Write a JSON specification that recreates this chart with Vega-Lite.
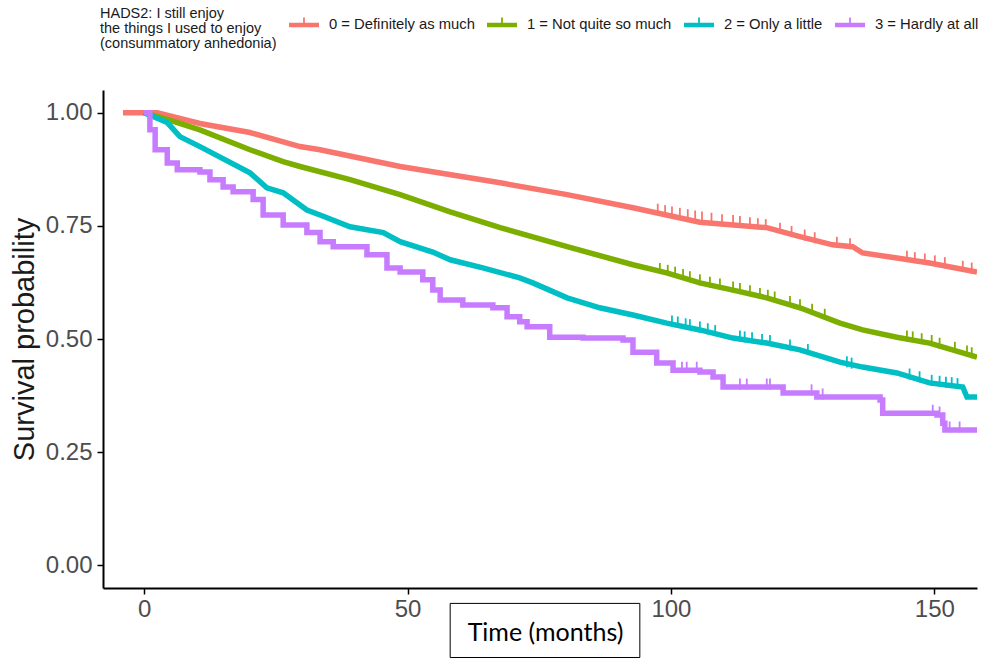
{
  "$schema": "https://vega.github.io/schema/vega-lite/v6.json",
  "width": 874,
  "height": 498,
  "autosize": {"type": "none"},
  "padding": {"left": 103, "top": 90, "right": 13, "bottom": 70},
  "background": "white",
  "config": {
    "view": {"stroke": null},
    "axis": {"grid": false, "domainColor": "black", "domainWidth": 2, "tickColor": "black", "tickWidth": 1.5, "tickSize": 6, "labelFont": "Liberation Sans", "labelFontSize": 24, "labelColor": "#4d4d4d"}
  },
  "datasets": {
    "curves": [
      {"g": "0 = Definitely as much", "t": -4, "s": 1},
      {"g": "0 = Definitely as much", "t": 2.5, "s": 1},
      {"g": "0 = Definitely as much", "t": 10.6, "s": 0.976},
      {"g": "0 = Definitely as much", "t": 20.1, "s": 0.956},
      {"g": "0 = Definitely as much", "t": 29.6, "s": 0.925},
      {"g": "0 = Definitely as much", "t": 33.4, "s": 0.918},
      {"g": "0 = Definitely as much", "t": 48.6, "s": 0.881},
      {"g": "0 = Definitely as much", "t": 67.6, "s": 0.845},
      {"g": "0 = Definitely as much", "t": 80.3, "s": 0.819},
      {"g": "0 = Definitely as much", "t": 92.8, "s": 0.790},
      {"g": "0 = Definitely as much", "t": 105.5, "s": 0.758},
      {"g": "0 = Definitely as much", "t": 118.2, "s": 0.746},
      {"g": "0 = Definitely as much", "t": 124.5, "s": 0.726},
      {"g": "0 = Definitely as much", "t": 130.7, "s": 0.708},
      {"g": "0 = Definitely as much", "t": 134.5, "s": 0.704},
      {"g": "0 = Definitely as much", "t": 136.4, "s": 0.690},
      {"g": "0 = Definitely as much", "t": 142.9, "s": 0.679},
      {"g": "0 = Definitely as much", "t": 149.1, "s": 0.668},
      {"g": "0 = Definitely as much", "t": 158.1, "s": 0.648},
      {"g": "1 = Not quite so much", "t": 0, "s": 1},
      {"g": "1 = Not quite so much", "t": 4.4, "s": 0.985},
      {"g": "1 = Not quite so much", "t": 10.6, "s": 0.962},
      {"g": "1 = Not quite so much", "t": 20.1, "s": 0.918},
      {"g": "1 = Not quite so much", "t": 26.4, "s": 0.892},
      {"g": "1 = Not quite so much", "t": 29.6, "s": 0.881},
      {"g": "1 = Not quite so much", "t": 39.1, "s": 0.852},
      {"g": "1 = Not quite so much", "t": 48.6, "s": 0.819},
      {"g": "1 = Not quite so much", "t": 58.1, "s": 0.781},
      {"g": "1 = Not quite so much", "t": 67.6, "s": 0.746},
      {"g": "1 = Not quite so much", "t": 80.3, "s": 0.704},
      {"g": "1 = Not quite so much", "t": 92.8, "s": 0.664},
      {"g": "1 = Not quite so much", "t": 99.2, "s": 0.646},
      {"g": "1 = Not quite so much", "t": 105.5, "s": 0.624},
      {"g": "1 = Not quite so much", "t": 111.8, "s": 0.608},
      {"g": "1 = Not quite so much", "t": 118.2, "s": 0.591},
      {"g": "1 = Not quite so much", "t": 124.5, "s": 0.569},
      {"g": "1 = Not quite so much", "t": 132.1, "s": 0.535},
      {"g": "1 = Not quite so much", "t": 136.4, "s": 0.520},
      {"g": "1 = Not quite so much", "t": 142.9, "s": 0.504},
      {"g": "1 = Not quite so much", "t": 149.1, "s": 0.491},
      {"g": "1 = Not quite so much", "t": 158.1, "s": 0.460},
      {"g": "2 = Only a little", "t": 0, "s": 1},
      {"g": "2 = Only a little", "t": 4.4, "s": 0.978},
      {"g": "2 = Only a little", "t": 6.8, "s": 0.947},
      {"g": "2 = Only a little", "t": 10.6, "s": 0.925},
      {"g": "2 = Only a little", "t": 20.1, "s": 0.867},
      {"g": "2 = Only a little", "t": 23.3, "s": 0.834},
      {"g": "2 = Only a little", "t": 26.4, "s": 0.823},
      {"g": "2 = Only a little", "t": 30.9, "s": 0.785},
      {"g": "2 = Only a little", "t": 33.4, "s": 0.774},
      {"g": "2 = Only a little", "t": 39.1, "s": 0.748},
      {"g": "2 = Only a little", "t": 45.4, "s": 0.735},
      {"g": "2 = Only a little", "t": 48.6, "s": 0.715},
      {"g": "2 = Only a little", "t": 54.8, "s": 0.692},
      {"g": "2 = Only a little", "t": 58.1, "s": 0.675},
      {"g": "2 = Only a little", "t": 64.3, "s": 0.657},
      {"g": "2 = Only a little", "t": 71.3, "s": 0.635},
      {"g": "2 = Only a little", "t": 73.8, "s": 0.624},
      {"g": "2 = Only a little", "t": 80.3, "s": 0.591},
      {"g": "2 = Only a little", "t": 86.5, "s": 0.569},
      {"g": "2 = Only a little", "t": 92.8, "s": 0.553},
      {"g": "2 = Only a little", "t": 99.2, "s": 0.535},
      {"g": "2 = Only a little", "t": 105.5, "s": 0.520},
      {"g": "2 = Only a little", "t": 111.8, "s": 0.502},
      {"g": "2 = Only a little", "t": 118.2, "s": 0.491},
      {"g": "2 = Only a little", "t": 124.5, "s": 0.476},
      {"g": "2 = Only a little", "t": 132.1, "s": 0.449},
      {"g": "2 = Only a little", "t": 136.4, "s": 0.438},
      {"g": "2 = Only a little", "t": 142.9, "s": 0.425},
      {"g": "2 = Only a little", "t": 149.1, "s": 0.403},
      {"g": "2 = Only a little", "t": 155.4, "s": 0.394},
      {"g": "2 = Only a little", "t": 156.2, "s": 0.372},
      {"g": "2 = Only a little", "t": 158.1, "s": 0.372},
      {"g": "3 = Hardly at all", "t": 0, "s": 1},
      {"g": "3 = Hardly at all", "t": 1.1, "s": 0.962},
      {"g": "3 = Hardly at all", "t": 2.1, "s": 0.918},
      {"g": "3 = Hardly at all", "t": 4.4, "s": 0.889},
      {"g": "3 = Hardly at all", "t": 6.3, "s": 0.874},
      {"g": "3 = Hardly at all", "t": 10.6, "s": 0.869},
      {"g": "3 = Hardly at all", "t": 12.5, "s": 0.852},
      {"g": "3 = Hardly at all", "t": 15.0, "s": 0.836},
      {"g": "3 = Hardly at all", "t": 16.9, "s": 0.825},
      {"g": "3 = Hardly at all", "t": 20.7, "s": 0.808},
      {"g": "3 = Hardly at all", "t": 22.6, "s": 0.774},
      {"g": "3 = Hardly at all", "t": 26.4, "s": 0.752},
      {"g": "3 = Hardly at all", "t": 30.9, "s": 0.735},
      {"g": "3 = Hardly at all", "t": 33.4, "s": 0.715},
      {"g": "3 = Hardly at all", "t": 35.9, "s": 0.704},
      {"g": "3 = Hardly at all", "t": 42.3, "s": 0.686},
      {"g": "3 = Hardly at all", "t": 46.1, "s": 0.657},
      {"g": "3 = Hardly at all", "t": 48.6, "s": 0.648},
      {"g": "3 = Hardly at all", "t": 52.9, "s": 0.631},
      {"g": "3 = Hardly at all", "t": 54.8, "s": 0.608},
      {"g": "3 = Hardly at all", "t": 56.2, "s": 0.586},
      {"g": "3 = Hardly at all", "t": 60.5, "s": 0.575},
      {"g": "3 = Hardly at all", "t": 66.2, "s": 0.569},
      {"g": "3 = Hardly at all", "t": 68.9, "s": 0.549},
      {"g": "3 = Hardly at all", "t": 71.3, "s": 0.538},
      {"g": "3 = Hardly at all", "t": 72.7, "s": 0.527},
      {"g": "3 = Hardly at all", "t": 77.0, "s": 0.504},
      {"g": "3 = Hardly at all", "t": 83.3, "s": 0.502},
      {"g": "3 = Hardly at all", "t": 90.9, "s": 0.498},
      {"g": "3 = Hardly at all", "t": 92.8, "s": 0.471},
      {"g": "3 = Hardly at all", "t": 97.3, "s": 0.447},
      {"g": "3 = Hardly at all", "t": 100.4, "s": 0.431},
      {"g": "3 = Hardly at all", "t": 105.5, "s": 0.427},
      {"g": "3 = Hardly at all", "t": 108.0, "s": 0.416},
      {"g": "3 = Hardly at all", "t": 109.9, "s": 0.394},
      {"g": "3 = Hardly at all", "t": 121.3, "s": 0.381},
      {"g": "3 = Hardly at all", "t": 127.7, "s": 0.372},
      {"g": "3 = Hardly at all", "t": 139.7, "s": 0.365},
      {"g": "3 = Hardly at all", "t": 140.2, "s": 0.336},
      {"g": "3 = Hardly at all", "t": 150.5, "s": 0.332},
      {"g": "3 = Hardly at all", "t": 151.6, "s": 0.314},
      {"g": "3 = Hardly at all", "t": 152.0, "s": 0.299},
      {"g": "3 = Hardly at all", "t": 158.1, "s": 0.299}
    ],
    "censor": [
      {"g": "0 = Definitely as much", "t": 97.5, "s": 0.780},
      {"g": "0 = Definitely as much", "t": 98.9, "s": 0.777},
      {"g": "0 = Definitely as much", "t": 100.2, "s": 0.774},
      {"g": "0 = Definitely as much", "t": 101.7, "s": 0.771},
      {"g": "0 = Definitely as much", "t": 103.2, "s": 0.768},
      {"g": "0 = Definitely as much", "t": 104.6, "s": 0.765},
      {"g": "0 = Definitely as much", "t": 105.9, "s": 0.763},
      {"g": "0 = Definitely as much", "t": 107.7, "s": 0.760},
      {"g": "0 = Definitely as much", "t": 109.7, "s": 0.757},
      {"g": "0 = Definitely as much", "t": 111.8, "s": 0.755},
      {"g": "0 = Definitely as much", "t": 113.1, "s": 0.753},
      {"g": "0 = Definitely as much", "t": 115.0, "s": 0.750},
      {"g": "0 = Definitely as much", "t": 116.5, "s": 0.748},
      {"g": "0 = Definitely as much", "t": 118.0, "s": 0.746},
      {"g": "0 = Definitely as much", "t": 120.7, "s": 0.738},
      {"g": "0 = Definitely as much", "t": 122.9, "s": 0.731},
      {"g": "0 = Definitely as much", "t": 125.4, "s": 0.723},
      {"g": "0 = Definitely as much", "t": 127.3, "s": 0.717},
      {"g": "0 = Definitely as much", "t": 131.5, "s": 0.707},
      {"g": "0 = Definitely as much", "t": 134.0, "s": 0.704},
      {"g": "0 = Definitely as much", "t": 144.8, "s": 0.676},
      {"g": "0 = Definitely as much", "t": 146.3, "s": 0.673},
      {"g": "0 = Definitely as much", "t": 148.2, "s": 0.670},
      {"g": "0 = Definitely as much", "t": 150.1, "s": 0.666},
      {"g": "0 = Definitely as much", "t": 152.0, "s": 0.662},
      {"g": "0 = Definitely as much", "t": 155.4, "s": 0.654},
      {"g": "0 = Definitely as much", "t": 157.1, "s": 0.650},
      {"g": "1 = Not quite so much", "t": 97.9, "s": 0.649},
      {"g": "1 = Not quite so much", "t": 99.4, "s": 0.645},
      {"g": "1 = Not quite so much", "t": 100.8, "s": 0.641},
      {"g": "1 = Not quite so much", "t": 102.3, "s": 0.636},
      {"g": "1 = Not quite so much", "t": 103.6, "s": 0.631},
      {"g": "1 = Not quite so much", "t": 105.5, "s": 0.624},
      {"g": "1 = Not quite so much", "t": 107.4, "s": 0.619},
      {"g": "1 = Not quite so much", "t": 109.3, "s": 0.615},
      {"g": "1 = Not quite so much", "t": 111.8, "s": 0.608},
      {"g": "1 = Not quite so much", "t": 113.1, "s": 0.605},
      {"g": "1 = Not quite so much", "t": 115.0, "s": 0.600},
      {"g": "1 = Not quite so much", "t": 116.9, "s": 0.594},
      {"g": "1 = Not quite so much", "t": 118.4, "s": 0.590},
      {"g": "1 = Not quite so much", "t": 119.7, "s": 0.586},
      {"g": "1 = Not quite so much", "t": 122.6, "s": 0.576},
      {"g": "1 = Not quite so much", "t": 124.5, "s": 0.569},
      {"g": "1 = Not quite so much", "t": 126.8, "s": 0.559},
      {"g": "1 = Not quite so much", "t": 129.2, "s": 0.548},
      {"g": "1 = Not quite so much", "t": 144.8, "s": 0.500},
      {"g": "1 = Not quite so much", "t": 145.9, "s": 0.498},
      {"g": "1 = Not quite so much", "t": 147.6, "s": 0.494},
      {"g": "1 = Not quite so much", "t": 149.5, "s": 0.490},
      {"g": "1 = Not quite so much", "t": 151.0, "s": 0.484},
      {"g": "1 = Not quite so much", "t": 153.9, "s": 0.475},
      {"g": "1 = Not quite so much", "t": 156.2, "s": 0.467},
      {"g": "1 = Not quite so much", "t": 157.1, "s": 0.463},
      {"g": "2 = Only a little", "t": 100.2, "s": 0.533},
      {"g": "2 = Only a little", "t": 101.3, "s": 0.531},
      {"g": "2 = Only a little", "t": 102.8, "s": 0.527},
      {"g": "2 = Only a little", "t": 103.6, "s": 0.525},
      {"g": "2 = Only a little", "t": 105.5, "s": 0.520},
      {"g": "2 = Only a little", "t": 107.0, "s": 0.516},
      {"g": "2 = Only a little", "t": 108.4, "s": 0.512},
      {"g": "2 = Only a little", "t": 113.1, "s": 0.500},
      {"g": "2 = Only a little", "t": 114.0, "s": 0.498},
      {"g": "2 = Only a little", "t": 115.4, "s": 0.496},
      {"g": "2 = Only a little", "t": 117.3, "s": 0.492},
      {"g": "2 = Only a little", "t": 118.8, "s": 0.490},
      {"g": "2 = Only a little", "t": 122.6, "s": 0.480},
      {"g": "2 = Only a little", "t": 126.0, "s": 0.470},
      {"g": "2 = Only a little", "t": 133.4, "s": 0.443},
      {"g": "2 = Only a little", "t": 134.3, "s": 0.440},
      {"g": "2 = Only a little", "t": 145.3, "s": 0.416},
      {"g": "2 = Only a little", "t": 147.2, "s": 0.410},
      {"g": "2 = Only a little", "t": 149.5, "s": 0.402},
      {"g": "2 = Only a little", "t": 151.0, "s": 0.400},
      {"g": "2 = Only a little", "t": 152.2, "s": 0.398},
      {"g": "2 = Only a little", "t": 153.3, "s": 0.397},
      {"g": "2 = Only a little", "t": 154.4, "s": 0.395},
      {"g": "3 = Hardly at all", "t": 102.1, "s": 0.431},
      {"g": "3 = Hardly at all", "t": 103.0, "s": 0.431},
      {"g": "3 = Hardly at all", "t": 104.9, "s": 0.431},
      {"g": "3 = Hardly at all", "t": 113.1, "s": 0.394},
      {"g": "3 = Hardly at all", "t": 114.4, "s": 0.394},
      {"g": "3 = Hardly at all", "t": 118.2, "s": 0.394},
      {"g": "3 = Hardly at all", "t": 118.8, "s": 0.394},
      {"g": "3 = Hardly at all", "t": 126.7, "s": 0.381},
      {"g": "3 = Hardly at all", "t": 128.8, "s": 0.372},
      {"g": "3 = Hardly at all", "t": 149.7, "s": 0.336},
      {"g": "3 = Hardly at all", "t": 151.0, "s": 0.332},
      {"g": "3 = Hardly at all", "t": 152.9, "s": 0.299},
      {"g": "3 = Hardly at all", "t": 154.8, "s": 0.299}
    ]
  },
  "layer": [
    {
      "data": {"name": "curves"},
      "transform": [{"filter": "datum.g != '3 = Hardly at all'"}],
      "mark": {"type": "line", "strokeWidth": 5.5, "clip": true},
      "encoding": {
        "x": {"field": "t", "type": "quantitative", "scale": {"domain": [-7.8, 158.1], "nice": false, "zero": false},
          "axis": {"values": [0, 50, 100, 150], "title": "Time (months)", "titleFont": "Lato", "titleFontSize": 25, "titleFontWeight": "normal", "titleColor": "black", "titleX": 442, "titleY": 44, "titleBaseline": "middle", "titleAlign": "center", "titleAnchor": null, "labelPadding": 3}},
        "y": {"field": "s", "type": "quantitative", "scale": {"domain": [-0.05, 1.05], "nice": false, "zero": false},
          "axis": {"values": [0, 0.25, 0.5, 0.75, 1], "format": ".2f", "title": "Survival probability", "titleFont": "Liberation Sans", "titleFontSize": 29, "titleFontWeight": "normal", "titleColor": "#1a1a1a", "titlePadding": 6, "labelPadding": 5}},
        "color": {"field": "g", "type": "nominal",
          "scale": {"domain": ["0 = Definitely as much", "1 = Not quite so much", "2 = Only a little", "3 = Hardly at all"], "range": ["#F8766D", "#7CAE00", "#00BFC4", "#C77CFF"]},
          "legend": {"orient": "none", "legendX": -3, "legendY": -80, "direction": "horizontal", "titleOrient": "left",
            "title": ["HADS2: I still enjoy", "the things I used to enjoy", "(consummatory anhedonia)"],
            "titleFont": "Liberation Sans", "titleFontSize": 14.5, "titleFontWeight": "normal", "titleLineHeight": 15, "titleColor": "#1a1a1a", "titlePadding": 12,
            "labelFont": "Liberation Sans", "labelFontSize": 14.8, "labelColor": "#1a1a1a", "labelOffset": 10, "columnPadding": 12,
            "symbolType": "M-1,-0.15H-0.06V-0.5H0.06V-0.15H1V0.15H-1Z", "symbolSize": 900, "symbolStrokeWidth": 0,
            "encode": {
              "symbols": {"update": {"fill": {"scale": "color", "field": "value"}, "opacity": {"value": 1}}},
              "title": {"update": {"dy": {"value": 8}}}
            }}}
      }
    },
    {
      "data": {"name": "curves"},
      "transform": [{"filter": "datum.g == '3 = Hardly at all'"}],
      "mark": {"type": "line", "strokeWidth": 5.5, "interpolate": "step-after", "clip": true},
      "encoding": {
        "x": {"field": "t", "type": "quantitative"},
        "y": {"field": "s", "type": "quantitative"},
        "color": {"field": "g", "type": "nominal"}
      }
    },
    {
      "data": {"name": "censor"},
      "mark": {"type": "tick", "orient": "vertical", "size": 11, "thickness": 1.8, "yOffset": -3, "opacity": 1, "clip": true},
      "encoding": {
        "x": {"field": "t", "type": "quantitative"},
        "y": {"field": "s", "type": "quantitative"},
        "color": {"field": "g", "type": "nominal"}
      }
    },
    {
      "data": {"values": [{}]},
      "mark": {"type": "rect", "filled": false, "stroke": "black", "strokeWidth": 1},
      "encoding": {
        "x": {"datum": 58.1, "type": "quantitative"},
        "x2": {"datum": 94.1},
        "y": {"datum": -0.084, "type": "quantitative"},
        "y2": {"datum": -0.2035}
      }
    }
  ]
}
